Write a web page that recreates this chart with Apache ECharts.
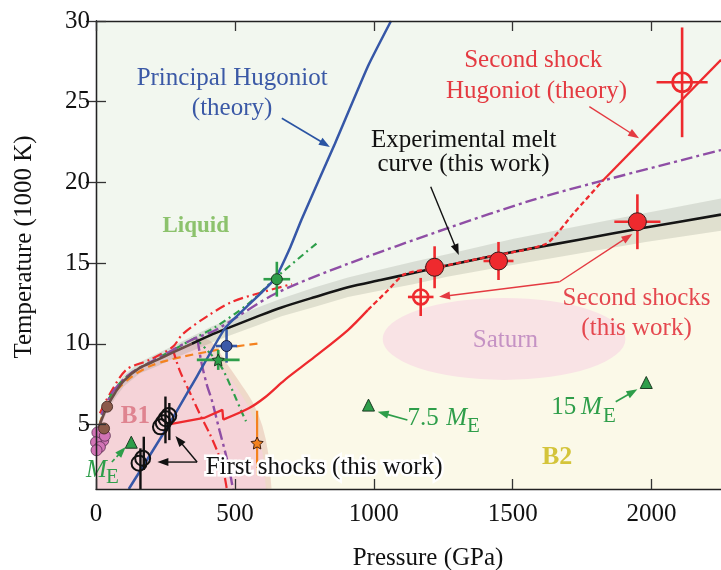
<!DOCTYPE html>
<html><head><meta charset="utf-8">
<script src="https://cdn.jsdelivr.net/npm/echarts@6/dist/echarts.min.js"></script>
<style>html,body{margin:0;padding:0;background:#fff}#c{width:721px;height:570px}</style>
</head><body><div id="c"></div>
<script>
// ================= DATA (pressure GPa, temperature 1000 K) =================
const xTicks = [0, 500, 1000, 1500, 2000];
const yTicks = [5, 10, 15, 20, 25, 30];

// experimental melt curve (low-pressure part drawn brown, high part black)
const meltLow  = [[0,3.8],[10,4.8],[25,5.5],[40,6.1],[70,7.0],[100,7.7],[157,8.5],[220,9.0],[275,9.45],[345,10.0]];
const meltHigh = [[345,10.0],[420,10.6],[479,11.0],[575,11.65],[668,12.25],[789,12.9],[907,13.5],[1025,13.95],[1146,14.4],[1264,14.85],[1504,15.7],[1739,16.45],[1979,17.2],[2250,18.0]];
const meltUncertainty = [0.3,0.3,0.3,0.3,0.35,0.35,0.35,0.4,0.4,0.45,0.5,0.5,0.55,0.55,0.6,0.6,0.65,0.7,0.7,0.8,0.85,0.9,1.0];

// B1 / B2 solid boundary (theory)
const b1Boundary = [[345,10.0],[400,9.9],[454,8.6],[510,7.2],[550,6.1],[580,4.8],[600,3.2],[612,1.0]];

// principal Hugoniot (theory)
const principalHugoniot = [[118,1.0],[263,5.0],[364,8.0],[466,11.0],[555,12.5],[645,14.05],[700,16.0],[740,17.7],[860,22.4],[979,27.2],[1062,30.0]];

// second shock Hugoniot (theory)
const secondShockStep   = [[262,5.0],[389,5.4],[455,5.9],[458,5.3]];
const secondShockRise   = [[458,5.3],[550,6.0],[610,6.7],[669,7.6],[693,7.95],[788,9.2],[907,10.85],[979,12.1]];
const secondShockDashed = [[979,12.1],[1050,13.3],[1109,14.3],[1219,14.7],[1400,15.35],[1621,16.2],[1720,18.1],[1824,20.1]];
const secondShockSolidB = [[1824,20.1],[2250,27.6]];

// other theoretical phase lines
const purpleMelt  = [[20,5.6],[60,7.0],[120,8.1],[200,8.9],[275,9.6],[345,10.25],[431,10.85],[645,13.1],[907,14.95],[1264,17.15],[1570,18.9],[1800,20.0],[2250,22.0]];
const purpleB1B2  = [[365,10.3],[380,8.8],[400,7.4],[417,6.5],[445,4.6],[465,3.3],[480,2.2],[493,1.0]];
const greenMelt   = [[20,5.6],[60,7.0],[120,8.1],[200,8.9],[276,9.6],[350,10.3],[431,11.05],[550,12.5],[645,14.05],[800,16.3]];
const greenB1B2   = [[360,10.3],[400,9.6],[450,8.6],[494,7.0],[524,5.8],[540,5.2]];
const redMelt     = [[14,5.7],[50,6.9],[110,8.4],[193,9.0],[276,9.8],[312,10.6],[400,11.7],[490,12.6],[600,13.2],[705,13.7]];
const redB1B2     = [[276,9.7],[300,8.4],[340,6.9],[375,5.6],[410,4.4],[440,3.2],[458,2.2],[471,1.0]];
const orangeMelt  = [[2,4.2],[26,5.7],[74,7.1],[132,8.0],[193,8.6],[264,9.0],[312,9.2],[400,9.5],[490,9.8],[598,10.05]];

// Saturn interior region: centre and half-extents
const saturnCenter = [1469, 10.3];
const saturnHalfSize = [437, 2.54];

// measurements: [P, T, dP, dT]
const secondShocksFilled = [[1219,14.74,35,1.3],[1449,15.13,54,1.18],[1949,17.56,83,1.7]];
const secondShockOpenSmall = [[1169,12.9,46,1.18]];
const secondShockOpenLarge = [[2110,26.2,92,3.4]];
const firstShocks = [[155,2.6],[168,2.9],[232,4.85],[242,5.1],[252,5.35],[262,5.55]];
const firstShockBars = [[160,2.23,0,1.29],[172,3.21,0,1.03],[250,5.28,0,1.45],[264,5.18,0,1.15]];
const greenCircle = [[651,14.0,48,1.08]];
const blueCircle = [[470,9.86,38,1.03]];
const greenStar = [[440,9.0,77,0.62]];
const orangeStar = [[580,3.85,0,2.0]];
const planetTriangles = [[127,3.9],[981,6.2],[1981,7.6]];
const pinkDots = [[5,4.5],[26,4.0],[0,3.9],[14,3.6],[2,3.4],[32,4.3]];
const brownDots = [[40,6.1],[29,4.75]];

// ================= LAYOUT / STYLE =================
const SERIF = '"Liberation Serif","Times New Roman",serif';
const RED = '#ee2a2e', BLUE = '#3657a7', GREEN = '#2e9e4a', PURPLE = '#8f4ea5', ORANGE = '#f4821f';
const STAR = 'path://M0,-10 L2.9,-4 L9.5,-3.1 L4.7,1.5 L5.9,8.1 L0,5 L-5.9,8.1 L-4.7,1.5 L-9.5,-3.1 L-2.9,-4 Z';

const textStyles = {
  blue:   {fill:'#3b59a6', font:'25px ' + SERIF},
  black:  {fill:'#111', font:'25px ' + SERIF},
  red:    {fill:'#e43a41', font:'25px ' + SERIF},
  red2:   {fill:'#e5484f', font:'25px ' + SERIF},
  liquid: {fill:'#8cc26c', font:'bold 23px ' + SERIF},
  saturn: {fill:'#c592c4', font:'25px ' + SERIF},
  b1:     {fill:'#df8490', font:'bold 25px ' + SERIF},
  b2:     {fill:'#d4c43a', font:'bold 26px ' + SERIF},
  green:  {fill:GREEN, font:'25px ' + SERIF},
  greenI: {fill:GREEN, font:'italic 25px ' + SERIF},
  greenS: {fill:GREEN, font:'21px ' + SERIF},
  halo:   {fill:'#111', font:'25px ' + SERIF}
};
const annotations = [
  {t:'Principal Hugoniot', at:[490,26.46], s:'blue'},
  {t:'(theory)', at:[490,24.6], s:'blue'},
  {t:'Experimental melt', at:[1324,22.62], s:'black'},
  {t:'curve (this work)', at:[1323,21.14], s:'black'},
  {t:'Second shock', at:[1574,27.58], s:'red'},
  {t:'Hugoniot (theory)', at:[1586,25.66], s:'red'},
  {t:'Liquid', at:[359,17.3], s:'liquid'},
  {t:'Saturn', at:[1474,10.23], s:'saturn'},
  {t:'Second shocks', at:[1946,12.83], s:'red2'},
  {t:'(this work)', at:[1946,10.98], s:'red2'},
  {t:'B1', at:[142,5.49], s:'b1'},
  {t:'B2', at:[1660,2.98], s:'b2'},
  {t:'First shocks (this work)', at:[821,2.36], s:'halo'},
  {t:'M', at:[-36,2.18], s:'greenI', a:'left'},
  {t:'E', at:[36,1.71], s:'greenS', a:'left'},
  {t:'7.5', at:[1121,5.40], s:'green', a:'left'},
  {t:'M', at:[1261,5.40], s:'greenI', a:'left'},
  {t:'E', at:[1336,4.9], s:'greenS', a:'left'},
  {t:'15', at:[1639,6.08], s:'green', a:'left'},
  {t:'M', at:[1746,6.08], s:'greenI', a:'left'},
  {t:'E', at:[1825,5.49], s:'greenS', a:'left'}
];
const arrows = [
  {from:[669,23.97], to:[842,22.2], c:'#2a54a3', w:1.6},
  {from:[1205,19.73], to:[1306,15.5], c:'#111', w:1.4},
  {from:[1776,24.69], to:[1955,22.73], c:'#e43a41', w:1.4},
  {from:[1669,13.84], to:[1235,12.91], c:'#e43a41', w:1.4},
  {from:[1669,13.84], to:[1931,16.8], c:'#e43a41', w:1.4},
  {from:[364,2.67], to:[221,2.67], c:'#111', w:1.4},
  {from:[364,2.67], to:[286,4.28], c:'#111', w:1.4},
  {from:[57,2.67], to:[107,3.6], c:GREEN, w:1.6, dash:true},
  {from:[1121,5.27], to:[1014,5.79], c:GREEN, w:1.6},
  {from:[1871,6.41], to:[1949,7.18], c:GREEN, w:1.6}
];

// ================= BUILD =================
const meltAll = meltLow.concat(meltHigh.slice(1));
const bandUpper = meltAll.map((p,i)=>[p[0], p[1] + meltUncertainty[i]]);
const bandLower = meltAll.map((p,i)=>[p[0], p[1] - meltUncertainty[i]]);
const b2Polygon = meltAll.concat([[2250,1],[0,1]]);
const b1Polygon = meltLow.concat(b1Boundary.slice(1), [[0,1]]);
const bandPolygon = bandUpper.concat(bandLower.slice().reverse());

function polygon(points, fill, z){
  return {type:'custom', coordinateSystem:'cartesian2d', silent:true, z, data:[[0,1]],
    renderItem:(params, api)=>({type:'polygon', shape:{points: points.map(p=>api.coord(p))}, style:{fill}})};
}
function polyline(points, stroke, width, z){
  return {type:'custom', coordinateSystem:'cartesian2d', silent:true, z, data:[[0,1]],
    renderItem:(params, api)=>({type:'polyline', shape:{points: points.map(p=>api.coord(p)), smooth:0.3}, style:{stroke, lineWidth:width, fill:null, lineJoin:'round'}})};
}
function curve(data, color, width, dash, smooth){
  return {type:'line', data, symbol:'none', silent:true, z:3, clip:true,
    smooth: smooth === undefined ? 0.3 : smooth,
    lineStyle:{color, width, type: dash || 'solid'}};
}
function errorBars(rows, color, width){
  return {type:'custom', coordinateSystem:'cartesian2d', silent:true, z:5, data: rows,
    renderItem:(params, api)=>{
      const x=api.value(0), y=api.value(1), dx=api.value(2), dy=api.value(3);
      const ch=[];
      if (dx>0){ const a=api.coord([x-dx,y]), b=api.coord([x+dx,y]);
        ch.push({type:'line', shape:{x1:a[0],y1:a[1],x2:b[0],y2:b[1]}, style:{stroke:color, lineWidth:width}}); }
      if (dy>0){ const a=api.coord([x,y-dy]), b=api.coord([x,y+dy]);
        ch.push({type:'line', shape:{x1:a[0],y1:a[1],x2:b[0],y2:b[1]}, style:{stroke:color, lineWidth:width}}); }
      return {type:'group', children:ch};
    }};
}
function markers(rows, symbol, size, color, border, bw){
  return {type:'scatter', data: rows.map(r=>[r[0], r[1]]), symbol, symbolSize:size, silent:true, z:6,
    itemStyle:{color, borderColor:border, borderWidth:bw, opacity:1}};
}

const series = [
  polygon(b2Polygon, '#fbf9e8', 1),
  polyline(b1Boundary, 'rgba(228,185,170,0.5)', 11, 1),
  polygon(b1Polygon, '#f5d3d8', 1),
  {type:'custom', coordinateSystem:'cartesian2d', silent:true, z:1, data:[saturnCenter],
    renderItem:(params, api)=>{
      const c = api.coord(saturnCenter), s = api.size(saturnHalfSize);
      return {type:'circle', x:c[0], y:c[1], scaleX:s[0], scaleY:s[1], shape:{cx:0, cy:0, r:1}, style:{fill:'#f9e3e5'}};
    }},
  polygon(bandPolygon, 'rgba(120,125,110,0.2)', 2),

  curve(orangeMelt, ORANGE, 2.2, [8,5]),
  curve(redMelt, RED, 2.2, [10,4,2,4]),
  curve(redB1B2, RED, 2.2, [10,4,2,4]),
  curve(greenMelt, GREEN, 2.2, [7,4,2,4]),
  curve(greenB1B2, GREEN, 2.2, [7,4,2,4]),
  curve(purpleMelt, PURPLE, 2.4, [12,4,3,4]),
  curve(purpleB1B2, PURPLE, 2.4, [12,4,3,4]),
  curve(meltLow, '#6b4d48', 2.6),
  curve(meltHigh, '#151515', 2.6),
  curve(principalHugoniot, BLUE, 2.5, 'solid', 0.15),
  curve(secondShockStep, RED, 2.3, 'solid', false),
  curve(secondShockRise, RED, 2.3, 'solid', 0.3),
  curve(secondShockDashed, RED, 2.3, [5,3], 0.2),
  curve(secondShockSolidB, RED, 2.3, 'solid', false),

  errorBars(secondShocksFilled, RED, 2.6),
  errorBars(secondShockOpenSmall, RED, 2.6),
  errorBars(secondShockOpenLarge, RED, 2.6),
  errorBars(firstShockBars, '#111', 2.4),
  errorBars(greenCircle, GREEN, 2.6),
  errorBars(blueCircle, BLUE, 2.6),
  errorBars(greenStar, GREEN, 2.6),
  errorBars(orangeStar, ORANGE, 2.2),

  markers(secondShocksFilled, 'circle', 18, RED, '#3a1a1a', 1),
  markers(secondShockOpenSmall, 'circle', 15, 'rgba(0,0,0,0)', RED, 2.6),
  markers(secondShockOpenLarge, 'circle', 19, 'rgba(0,0,0,0)', RED, 2.6),
  markers(firstShocks, 'circle', 15, 'rgba(0,0,0,0)', '#111', 2),
  markers(greenCircle, 'circle', 11, GREEN, '#1c3a22', 1),
  markers(blueCircle, 'circle', 11, '#3c5aa8', '#1a2244', 1),
  markers(greenStar, STAR, 12, GREEN, '#1c3a22', 1),
  markers(orangeStar, STAR, 12, ORANGE, '#402010', 1),
  markers(planetTriangles, 'triangle', 12, GREEN, '#1c3a22', 1),
  markers(pinkDots, 'circle', 11, '#d274b6', '#5a3050', 0.8),
  markers(brownDots, 'circle', 11, '#8b5a4a', '#3a2018', 0.8),

  {type:'custom', coordinateSystem:'cartesian2d', silent:true, z:7, data: arrows.map(a=>a.to),
    renderItem:(params, api)=>{
      const a = arrows[params.dataIndex];
      const p1 = api.coord(a.from), p2 = api.coord(a.to);
      const dx=p2[0]-p1[0], dy=p2[1]-p1[1], L=Math.hypot(dx,dy), ux=dx/L, uy=dy/L;
      const hl=11, hw=4;
      const bx=p2[0]-ux*hl, by=p2[1]-uy*hl;
      return {type:'group', children:[
        {type:'line', shape:{x1:p1[0],y1:p1[1],x2:bx+ux*2,y2:by+uy*2}, style:{stroke:a.c, lineWidth:a.w, lineDash: a.dash?[4,3]:null}},
        {type:'polygon', shape:{points:[[p2[0],p2[1]],[bx-uy*hw,by+ux*hw],[bx+uy*hw,by-ux*hw]]}, style:{fill:a.c}}
      ]};
    }},
  {type:'custom', coordinateSystem:'cartesian2d', silent:true, z:8, data: annotations.map(a=>a.at),
    renderItem:(params, api)=>{
      const a = annotations[params.dataIndex];
      const p = api.coord(a.at);
      const st = textStyles[a.s];
      const base = {text:a.t, font:st.font, align:a.a||'center', verticalAlign:'middle'};
      if (a.s === 'halo') {
        return {type:'group', children:[
          {type:'text', x:p[0], y:p[1], style:Object.assign({}, base, {fill:'#fff', stroke:'#fff', lineWidth:5})},
          {type:'text', x:p[0], y:p[1], style:Object.assign({}, base, {fill:st.fill})}
        ]};
      }
      return {type:'text', x:p[0], y:p[1], style:Object.assign({}, base, {fill:st.fill})};
    }}
];

const axisLine = {show:true, lineStyle:{color:'#222', width:1.3}};
const tick = (vals)=>({show:true, inside:true, length:10, customValues:vals, lineStyle:{color:'#333', width:1.3}});
const plain = v => String(v);
const option = {
  animation:false,
  backgroundColor:'#fff',
  grid:{left:96, top:21, width:630, height:468, show:true, backgroundColor:'#f2f7ef', borderWidth:0},
  xAxis:[
    {type:'value', min:0, max:2250, position:'bottom', z:10, axisLine, axisTick:tick(xTicks),
      axisLabel:{customValues:xTicks, formatter:plain, margin:13, color:'#111', fontSize:25, fontFamily:SERIF}, splitLine:{show:false}},
    {type:'value', min:0, max:2250, position:'top', z:10, axisLine, axisTick:tick(xTicks),
      axisLabel:{show:false}, splitLine:{show:false}}
  ],
  yAxis:[
    {type:'value', min:1, max:30, position:'left', z:10, axisLine, axisTick:tick(yTicks),
      axisLabel:{customValues:yTicks, formatter:plain, margin:6, color:'#111', fontSize:25, fontFamily:SERIF}, splitLine:{show:false}},
    {type:'value', min:1, max:30, position:'right', z:10, axisLine, axisTick:tick(yTicks),
      axisLabel:{show:false}, splitLine:{show:false}}
  ],
  graphic:[
    {type:'text', x:428, y:558, style:{text:'Pressure (GPa)', font:'25px ' + SERIF, fill:'#111', align:'center', verticalAlign:'middle'}},
    {type:'text', x:24, y:247, rotation:Math.PI/2, style:{text:'Temperature (1000 K)', font:'25px ' + SERIF, fill:'#111', align:'center', verticalAlign:'middle'}}
  ],
  series
};
const chart = echarts.init(document.getElementById('c'));
chart.setOption(option);
</script>
</body></html>
